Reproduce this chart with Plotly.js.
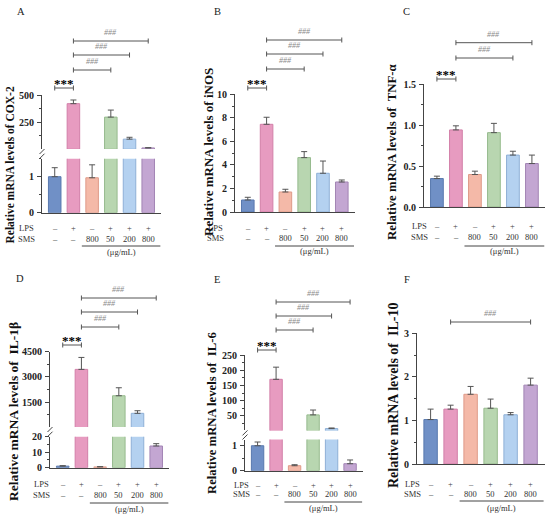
<!DOCTYPE html>
<html><head><meta charset="utf-8">
<script src="https://cdn.plot.ly/plotly-3.0.1.min.js"></script>
<style>html,body{margin:0;padding:0;background:#fff}#chart{width:550px;height:515px}</style>
</head><body><div id="chart"></div>
<script>
// ---------------- data ----------------
const groups = ['Control', 'LPS', 'SMS 800', 'LPS+SMS 50', 'LPS+SMS 200', 'LPS+SMS 800'];
const lpsSigns = ['–', '+', '–', '+', '+', '+'];
const smsDoses = ['–', '–', '800', '50', '200', '800'];
const doseUnit = '(μg/mL)';

const cox2Mean = [1.00, 420, 0.97, 296, 93, 12];
const cox2Err  = [0.25, 34, 0.36, 65, 17, 2];
const inosMean = [1.02, 7.45, 1.70, 4.62, 3.29, 2.55];
const inosErr  = [0.23, 0.60, 0.23, 0.51, 1.04, 0.17];
const tnfMean  = [0.347, 0.94, 0.396, 0.907, 0.633, 0.53];
const tnfErr   = [0.029, 0.05, 0.041, 0.113, 0.047, 0.103];
const il1bMean = [1.0, 3450, 0.5, 1885, 842, 14.0];
const il1bErr  = [0.3, 710, 0.15, 475, 154, 1.5];
const il6Mean  = [1.0, 170, 0.20, 53, 8, 0.28];
const il6Err   = [0.15, 40, 0.04, 16, 2, 0.15];
const il10Mean = [1.02, 1.26, 1.60, 1.28, 1.13, 1.81];
const il10Err  = [0.24, 0.09, 0.18, 0.21, 0.05, 0.16];

const sigFull = [[0, 1, '***'], [1, 3, '###'], [1, 4, '###'], [1, 5, '###']];
const sigTnf  = [[0, 1, '***'], [1, 4, '###'], [1, 5, '###']];
const sigIl10 = [[1, 5, '###']];

const barColors = ['#7090C6', '#E79BC0', '#F4B9A8', '#B8D6B0', '#B4D1F0', '#C3A6D2'];
const edgeColors = ['#5878AE', '#D27FA8', '#DE9A88', '#96BA8D', '#8EAFD6', '#A284B4'];

// ---------------- layout helpers ----------------
const W = 550, H = 515;
const px = v => v / W;
const py = v => 1 - v / H;
const SERIF = 'Liberation Serif, Times New Roman, serif';
const xRange = [-0.68, 5.7];

const panels = [
  { letter: 'A', lx: 21, ly: 12, mean: cox2Mean, err: cox2Err, sig: sigFull,
    title: 'Relative mRNA levels of COX-2', tx: 9.5, ty: 165, tsize: 11.5,
    left: 42, step: 18.7,
    segs: [ { range: [0, 1.5], top: 158.7, bot: 212.7, tickvals: [0, 1], minor: 0.5 },
            { range: [2, 500], top: 95, bot: 149, tickvals: [250, 500], minor: 125 } ],
    brY: [88, 70, 55, 41], lpsY: 228, smsY: 239, labX: 26, ulY: 246, unitY: 252 },
  { letter: 'B', lx: 217, ly: 12, mean: inosMean, err: inosErr, sig: sigFull,
    title: 'Relative mRNA levels of iNOS', tx: 208, ty: 152, tsize: 13,
    left: 235, step: 18.8,
    segs: [ { range: [0, 10], top: 94.3, bot: 212, tickvals: [0, 2, 4, 6, 8, 10], minor: 1 } ],
    brY: [88, 69, 54, 40], lpsY: 228, smsY: 238, labX: 215, ulY: 246, unitY: 251 },
  { letter: 'C', lx: 406, ly: 12, mean: tnfMean, err: tnfErr, sig: sigTnf,
    title: 'Relative mRNA levels of  TNF-α', tx: 392, ty: 152, tsize: 12.8,
    left: 424, step: 19,
    segs: [ { range: [0, 1.5], top: 84, bot: 207, tickvals: [0, 0.5, 1, 1.5], minor: 0.25, fmt: '.1f' } ],
    brY: [79, 58, 42.7], lpsY: 226, smsY: 237, labX: 419, ulY: 246, unitY: 251 },
  { letter: 'D', lx: 20, ly: 278, mean: il1bMean, err: il1bErr, sig: sigFull,
    title: 'Relative mRNA levels of  IL-1β', tx: 13, ty: 412, tsize: 13.5,
    left: 50, step: 18.7,
    segs: [ { range: [0, 20], top: 436.7, bot: 467.7, tickvals: [0, 10, 20], minor: 5 },
            { range: [30, 4500], top: 351.7, bot: 427, tickvals: [1500, 3000, 4500], minor: 750 } ],
    brY: [345, 327, 312, 298], lpsY: 484, smsY: 495, labX: 41, ulY: 503, unitY: 509 },
  { letter: 'E', lx: 217, ly: 279, mean: il6Mean, err: il6Err, sig: sigFull,
    title: 'Relative mRNA levels of  IL-6', tx: 212, ty: 413, tsize: 12.7,
    left: 245, step: 18.5,
    segs: [ { range: [0, 1.25], top: 439.5, bot: 470.7, tickvals: [0, 1], minor: 0.5 },
            { range: [2, 250], top: 355, bot: 430.4, tickvals: [50, 100, 150, 200, 250], minor: 25 } ],
    brY: [350, 330, 316, 302], lpsY: 485, smsY: 494, labX: 241, ulY: 502, unitY: 508 },
  { letter: 'F', lx: 407, ly: 279, mean: il10Mean, err: il10Err, sig: sigIl10,
    title: 'Relative mRNA levels of  IL-10', tx: 393, ty: 396, tsize: 14,
    left: 417, step: 20,
    segs: [ { range: [0, 3], top: 333.3, bot: 464, tickvals: [0, 1, 2, 3], minor: 0.5 } ],
    brY: [322], lpsY: 484, smsY: 494, labX: 412, ulY: 501, unitY: 508 }
];

const data = [];
const layout = {
  width: W, height: H, margin: { l: 0, r: 0, t: 0, b: 0 },
  paper_bgcolor: '#ffffff', plot_bgcolor: 'rgba(0,0,0,0)', showlegend: false,
  annotations: [], shapes: []
};
const tickFont = { family: SERIF, size: 10, color: '#222', weight: 'bold' };
const lineCol = '#444';
const brCol = '#555';
let yCount = 0;

function ann(o) { layout.annotations.push(Object.assign({ showarrow: false, xanchor: 'center', yanchor: 'middle' }, o)); }
function seg(o) { layout.shapes.push(Object.assign({ type: 'line', line: { color: brCol, width: 1 } }, o)); }

panels.forEach((p, k) => {
  const xn = k + 1;
  const xid = 'x' + (xn === 1 ? '' : xn);
  const xkey = 'xaxis' + (xn === 1 ? '' : xn);
  const right = p.left + (xRange[1] - xRange[0]) * p.step;
  let firstY = null;

  p.segs.forEach((s, si) => {
    yCount++;
    const yid = 'y' + (yCount === 1 ? '' : yCount);
    const ykey = 'yaxis' + (yCount === 1 ? '' : yCount);
    if (si === 0) firstY = yid;
    layout[ykey] = {
      domain: [py(s.bot), py(s.top)], range: s.range, anchor: xid,
      showline: true, linecolor: lineCol, linewidth: 1,
      ticks: 'outside', ticklen: 4, tickwidth: 1, tickcolor: lineCol,
      tickmode: 'array', tickvals: s.tickvals, tickformat: s.fmt || '',
      minor: { ticks: 'outside', ticklen: 2, dtick: s.minor, tick0: 0, tickcolor: lineCol },
      tickfont: tickFont, showgrid: false, zeroline: false, fixedrange: true, ticklabelstandoff: 1
    };
    // in an upper (broken) segment only bars that reach into it are drawn
    const yv = si === 0 ? p.mean : p.mean.map(v => (v > s.range[0] ? v : null));
    data.push({
      type: 'bar', x: groups, y: yv, xaxis: xid, yaxis: yid, width: 0.67,
      marker: { color: barColors, line: { color: edgeColors, width: 1 } },
      error_y: { type: 'data', symmetric: false, array: p.err, arrayminus: p.err.map(() => 0),
                 color: '#555', thickness: 1, width: 3 },
      hoverinfo: 'x+y'
    });
  });

  // broken-axis marks
  if (p.segs.length === 2) {
    const lo = p.segs[0], hi = p.segs[1];
    [hi.bot + 2.5, lo.top - 2.5].forEach(yc => {
      seg({ xref: 'paper', yref: 'paper', x0: px(p.left - 2.5), x1: px(p.left + 2.5),
            y0: py(yc + 2.5), y1: py(yc - 2.5), line: { color: lineCol, width: 1 } });
    });
  }

  layout[xkey] = {
    domain: [px(p.left), px(right)], range: xRange, anchor: firstY, type: 'category',
    showline: true, linecolor: lineCol, linewidth: 1, ticks: '', showticklabels: false,
    showgrid: false, zeroline: false, fixedrange: true
  };

  // significance brackets
  p.sig.forEach((b, bi) => {
    const yb = p.brY[bi];
    const [i, j, lab] = b;
    seg({ xref: xid, yref: 'paper', x0: i, x1: j, y0: py(yb), y1: py(yb) });
    seg({ xref: xid, yref: 'paper', x0: i, x1: i, y0: py(yb - 2.5), y1: py(yb + 2.5) });
    seg({ xref: xid, yref: 'paper', x0: j, x1: j, y0: py(yb - 2.5), y1: py(yb + 2.5) });
    if (lab === '***') {
      ann({ xref: xid, yref: 'paper', x: (i + j) / 2, y: py(yb - 4.5), text: '<b>***</b>',
            font: { family: SERIF, size: 13, color: '#000' } });
    } else {
      ann({ xref: xid, yref: 'paper', x: (i + j) / 2, y: py(yb - 8.5), text: '<i>' + lab + '</i>',
            font: { family: SERIF, size: 8, color: '#8a8a8a' } });
    }
  });

  // LPS / SMS rows
  ann({ xref: 'paper', yref: 'paper', x: px(p.labX), y: py(p.lpsY), text: 'LPS',
        font: { family: SERIF, size: 8.5, color: '#333' } });
  ann({ xref: 'paper', yref: 'paper', x: px(p.labX), y: py(p.smsY), text: 'SMS',
        font: { family: SERIF, size: 8.5, color: '#333' } });
  groups.forEach((g, i) => {
    ann({ xref: xid, yref: 'paper', x: i, y: py(p.lpsY), text: lpsSigns[i],
          font: { family: SERIF, size: 8.5, color: '#444' } });
    ann({ xref: xid, yref: 'paper', x: i, y: py(p.smsY), text: smsDoses[i],
          font: { family: SERIF, size: 8.5, color: '#333' } });
  });
  seg({ xref: xid, yref: 'paper', x0: 1.45, x1: 5.65, y0: py(p.ulY), y1: py(p.ulY), line: { color: '#444', width: 1 } });
  ann({ xref: xid, yref: 'paper', x: 3.55, y: py(p.unitY), text: doseUnit,
        font: { family: SERIF, size: 8.5, color: '#333' } });

  // y title and panel letter
  ann({ xref: 'paper', yref: 'paper', x: px(p.tx), y: py(p.ty), text: '<b>' + p.title + '</b>',
        textangle: -90, font: { family: SERIF, size: p.tsize, color: '#111' } });
  ann({ xref: 'paper', yref: 'paper', x: px(p.lx), y: py(p.ly), text: p.letter,
        font: { family: SERIF, size: 10.5, color: '#222' } });
});

Plotly.newPlot('chart', data, layout, { displayModeBar: false, staticPlot: true });
</script></body></html>
